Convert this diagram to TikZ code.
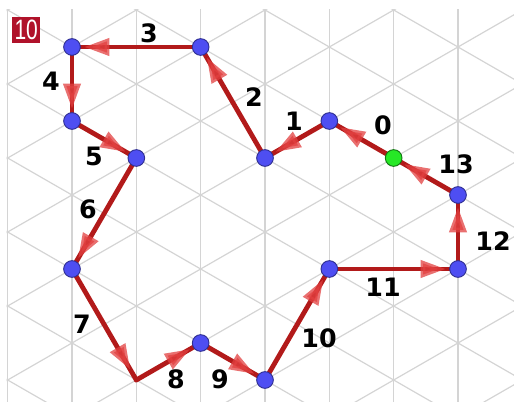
\documentclass[tikz,border=0pt]{standalone}
\usepackage{fontspec}
\usepackage{graphicx}
\setmainfont{DejaVu Sans}
\newfontfamily\badgefont{Liberation Sans}
\usetikzlibrary{arrows.meta,decorations.markings}
\definecolor{gridgray}{RGB}{212,212,212}
\definecolor{pathred}{RGB}{178,26,26}
\definecolor{headred}{RGB}{226,64,64}
\definecolor{dotblue}{RGB}{78,78,242}
\definecolor{dotgreen}{RGB}{38,232,38}
\definecolor{badgered}{RGB}{176,18,42}
\tikzset{
  gridline/.style={draw=gridgray, line width=0.9pt},
  leg/.style={draw=pathred, line width=3.6pt, line cap=round, postaction={decorate},
    decoration={markings, mark=at position -9pt with {\arrow[headred, opacity=0.75]{Triangle[length=19pt,width=12.5pt]}}}},
  dot/.style={circle, fill=dotblue, draw=dotblue!60!black, line width=0.7pt, minimum size=12.5pt, inner sep=0pt},
  startdot/.style={dot, fill=dotgreen, draw=dotgreen!50!black},
  num/.style={font=\fontsize{19}{19}\selectfont\bfseries, inner sep=0pt},
  badge/.style={fill=badgered, text=white, minimum width=20.8pt, minimum height=20pt, inner sep=0pt,
    font=\badgefont\fontsize{21}{21}\selectfont}
}
\begin{document}
\begin{tikzpicture}[x=0.75pt, y=-0.75pt]
  \useasboundingbox (0,0) rectangle (514,402);
  % triangular grid
  \begin{scope}
    \clip (6.5,10) rectangle (514,402);
    \begin{scope}[shift={(72,47)}, x=48.25pt, y=-27.75pt]
      \foreach \i in {-1,...,7}
        \draw[gridline] (\i,-2) -- (\i,12);
      \foreach \m in {-10,-8,...,12}
        \draw[gridline] (-2,{\m-2}) -- (8,{\m+8});
      \foreach \m in {-2,0,...,22}
        \draw[gridline] (-2,{\m+2}) -- (8,{\m-8});
    \end{scope}
  \end{scope}
  % walk on the lattice
  \begin{scope}[shift={(72,47)}, x=48.25pt, y=-27.75pt]
    \coordinate (p0) at (5,3);
    \coordinate (p1) at (4,2);
    \coordinate (p2) at (3,3);
    \coordinate (p3) at (2,0);
    \coordinate (p4) at (0,0);
    \coordinate (p5) at (0,2);
    \coordinate (p6) at (1,3);
    \coordinate (p7) at (0,6);
    \coordinate (p8) at (1,9);
    \coordinate (p9) at (2,8);
    \coordinate (p10) at (3,9);
    \coordinate (p11) at (4,6);
    \coordinate (p12) at (6,6);
    \coordinate (p13) at (6,4);
  \end{scope}
  \foreach \a/\b in {p0/p1, p1/p2, p2/p3, p3/p4, p4/p5, p5/p6, p6/p7,
                     p7/p8, p8/p9, p9/p10, p10/p11, p11/p12, p12/p13, p13/p0}
    \draw[leg] (\a) -- (\b);
  \foreach \p in {p1,p2,p3,p4,p5,p6,p7,p9,p10,p11,p12,p13}
    \node[dot] (d\p) at (\p) {};
  \node[startdot] (dp0) at (p0) {};
  % step numbers
  \node[num] (n0) at (383,125) {0};
  \node[num] (n1) at (294,121) {1};
  \node[num] (n2) at (254,97) {2};
  \node[num] (n3) at (149,33) {3};
  \node[num] (n4) at (51,81) {4};
  \node[num] (n5) at (94,156) {5};
  \node[num] (n6) at (88,209) {6};
  \node[num] (n7) at (82,324) {7};
  \node[num] (n8) at (176,379) {8};
  \node[num] (n9) at (220,379) {9};
  \node[num] (n10) at (319,338) {10};
  \node[num] (n11) at (383,287) {11};
  \node[num] (n12) at (493,241) {12};
  \node[num] (n13) at (456,164) {13};
  \node[badge] (tag) at (26.2,30) {\scalebox{0.75}[1]{10}};
\end{tikzpicture}
\end{document}
